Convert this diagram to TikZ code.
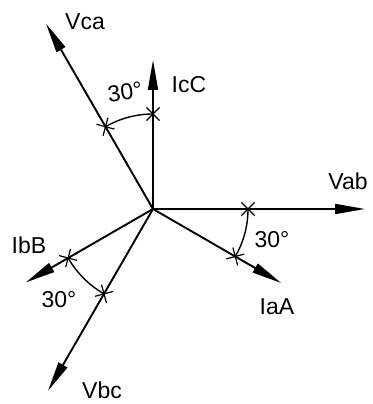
\documentclass[tikz,border=0pt]{standalone}
\usepackage{fontspec}
\setmainfont{Liberation Sans}
\usetikzlibrary{arrows.meta,shapes.misc}

\begin{document}
\begin{tikzpicture}[
    x=1pt, y=1pt,
    every node/.style={font=\fontsize{23}{26}\selectfont, inner sep=1pt},
    phasor/.style={line width=1.9pt, -{Triangle[length=30pt,width=10pt]}},
    angarc/.style={line width=1.4pt},
    tickmark/.style={cross out, draw, line width=1.2pt, minimum size=12pt, inner sep=0pt}
]
\useasboundingbox (-153,-195) rectangle (219,209);

% origin and phasor tips
\coordinate (O) at (0,0);
\coordinate (vab) at (0:212);
\coordinate (vbc) at (240:210);
\coordinate (vca) at (120:214);
\coordinate (iaa) at (-30:148);
\coordinate (ibb) at (210:147);
\coordinate (icc) at (90:149);

\draw[phasor] (O) -- (vab);
\draw[phasor] (O) -- (vbc);
\draw[phasor] (O) -- (vca);
\draw[phasor] (O) -- (iaa);
\draw[phasor] (O) -- (ibb);
\draw[phasor] (O) -- (icc);

% 30 degree arcs
\draw[angarc] (0:95) arc[start angle=0, end angle=-30, radius=95];
\draw[angarc] (90:95) arc[start angle=90, end angle=120, radius=95];
\draw[angarc] (210:98) arc[start angle=210, end angle=240, radius=98];

\node[tickmark] (m1) at (0:95) {};
\node[tickmark, rotate=-30] (m2) at (-30:95) {};
\node[tickmark] (m3) at (90:95) {};
\node[tickmark, rotate=30] (m4) at (120:95) {};
\node[tickmark, rotate=30] (m5) at (210:98) {};
\node[tickmark, rotate=-30] (m6) at (240:98) {};

% labels
\node (lvab) at (195,28) {Vab};
\node (lvbc) at (-51,-181) {Vbc};
\node (lvca) at (-68,187) {Vca};
\node (liaa) at (124,-98) {IaA};
\node (libb) at (-124,-36) {IbB};
\node (licc) at (36,124) {IcC};
\node (a1) at (119,-31) {30°};
\node[rotate=8] (a2) at (-28,117) {30°};
\node (a3) at (-94,-91) {30°};
\end{tikzpicture}
\end{document}
